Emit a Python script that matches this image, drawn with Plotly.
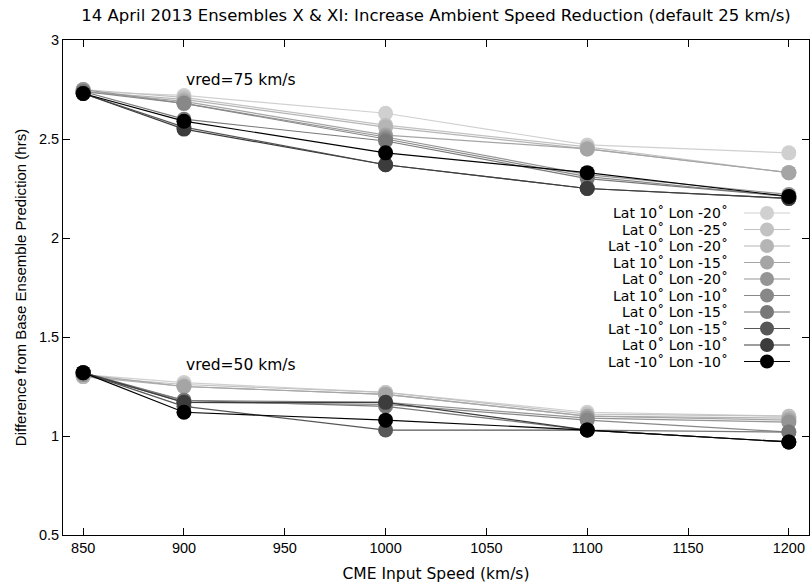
import plotly.graph_objects as go

speeds = [850, 900, 1000, 1100, 1200]
names = ["Lat 10˚ Lon -20˚", "Lat 0˚ Lon -25˚", "Lat -10˚ Lon -20˚", "Lat 10˚ Lon -15˚",
         "Lat 0˚ Lon -20˚", "Lat 10˚ Lon -10˚", "Lat 0˚ Lon -15˚", "Lat -10˚ Lon -15˚",
         "Lat 0˚ Lon -10˚", "Lat -10˚ Lon -10˚"]
colors = ["#d0d0d0", "#c2c2c2", "#b5b5b5", "#a5a5a5", "#959595",
          "#888888", "#787878", "#575757", "#3c3c3c", "#000000"]

# vred = 75 km/s
vred75 = [
    [2.74, 2.72, 2.63, 2.47, 2.43],
    [2.75, 2.71, 2.57, 2.46, 2.33],
    [2.74, 2.70, 2.56, 2.45, 2.33],
    [2.74, 2.69, 2.52, 2.45, 2.33],
    [2.75, 2.68, 2.51, 2.32, 2.22],
    [2.74, 2.68, 2.50, 2.31, 2.21],
    [2.74, 2.60, 2.49, 2.30, 2.21],
    [2.73, 2.56, 2.37, 2.25, 2.20],
    [2.73, 2.55, 2.37, 2.25, 2.20],
    [2.73, 2.59, 2.43, 2.33, 2.21],
]
# vred = 50 km/s
vred50 = [
    [1.31, 1.27, 1.22, 1.12, 1.10],
    [1.30, 1.26, 1.22, 1.11, 1.10],
    [1.30, 1.25, 1.21, 1.10, 1.09],
    [1.31, 1.25, 1.21, 1.10, 1.08],
    [1.31, 1.18, 1.17, 1.09, 1.07],
    [1.32, 1.17, 1.16, 1.08, 1.02],
    [1.32, 1.18, 1.15, 1.03, 1.02],
    [1.32, 1.15, 1.03, 1.03, 0.97],
    [1.32, 1.17, 1.17, 1.03, 0.97],
    [1.32, 1.12, 1.08, 1.03, 0.97],
]

FONT = "Liberation Sans, Arial, Helvetica, sans-serif"
WIDE = "DejaVu Sans, Verdana, sans-serif"

fig = go.Figure()
for i, nm in enumerate(names):
    xs = speeds + [None] + speeds
    ys = vred75[i] + [None] + vred50[i]
    fig.add_trace(go.Scatter(
        x=xs, y=ys, name=nm, mode="lines+markers",
        line=dict(color=colors[i], width=1.2),
        marker=dict(color=colors[i], size=15, line=dict(width=0)),
        connectgaps=False, showlegend=False))

# custom legend (text on the left, sample on the right, as in the reference)
row0 = 213
dy = 16.5
plot_top, plot_bot = 40, 535
for i, nm in enumerate(names):
    ypix = row0 + i * dy
    yp = (plot_bot - ypix) / (plot_bot - plot_top)
    fig.add_annotation(xref="paper", yref="paper", x=(730 - 63) / 746, y=yp,
                       text=nm, showarrow=False, xanchor="right", yanchor="middle",
                       font=dict(family=WIDE, size=14, color="black"))
    fig.add_shape(type="line", xref="paper", yref="paper",
                  x0=(744 - 63) / 746, x1=(790 - 63) / 746, y0=yp, y1=yp,
                  line=dict(color=colors[i], width=1.2))
    fig.add_shape(type="circle", xref="paper", yref="paper",
                  xsizemode="pixel", ysizemode="pixel",
                  xanchor=(767 - 63) / 746, yanchor=yp,
                  x0=-7, x1=7, y0=-7, y1=7,
                  fillcolor=colors[i], line=dict(width=0))

fig.add_annotation(x=900, y=2.80, text="vred=75 km/s", showarrow=False,
                   xanchor="left", yanchor="middle", font=dict(family=WIDE, size=15.5, color="black"))
fig.add_annotation(x=900, y=1.36, text="vred=50 km/s", showarrow=False,
                   xanchor="left", yanchor="middle", font=dict(family=WIDE, size=15.5, color="black"))

fig.update_layout(
    width=812, height=588,
    margin=dict(l=63, r=3, t=40, b=53),
    paper_bgcolor="white", plot_bgcolor="white",
    font=dict(family=FONT, size=14, color="black"),
    title=dict(text="14 April 2013 Ensembles X & XI: Increase Ambient Speed Reduction (default 25 km/s)",
               x=0.537, xanchor="center", y=0.974, yanchor="middle",
               font=dict(family=WIDE, size=16.5, color="black")),
    xaxis=dict(range=[840, 1210], tickmode="array",
               tickvals=[850, 900, 950, 1000, 1050, 1100, 1150, 1200],
               ticks="inside", ticklen=7, tickcolor="black",
               showline=True, linecolor="black", linewidth=1, mirror="allticks",
               showgrid=False, zeroline=False,
               tickfont=dict(family=FONT, size=14.5),
               title=dict(text="CME Input Speed (km/s)", standoff=12,
                          font=dict(family=WIDE, size=15.5))),
    yaxis=dict(range=[0.5, 3], tickmode="array",
               tickvals=[0.5, 1, 1.5, 2, 2.5, 3],
               ticktext=["0.5", "1", "1.5", "2", "2.5", "3"],
               ticks="inside", ticklen=7, tickcolor="black",
               showline=True, linecolor="black", linewidth=1, mirror="allticks",
               showgrid=False, zeroline=False,
               tickfont=dict(family=FONT, size=14.5),
               title=dict(text="Difference from Base Ensemble Prediction (hrs)", standoff=8,
                          font=dict(family=FONT, size=15))),
)

fig.write_html("out.html")
